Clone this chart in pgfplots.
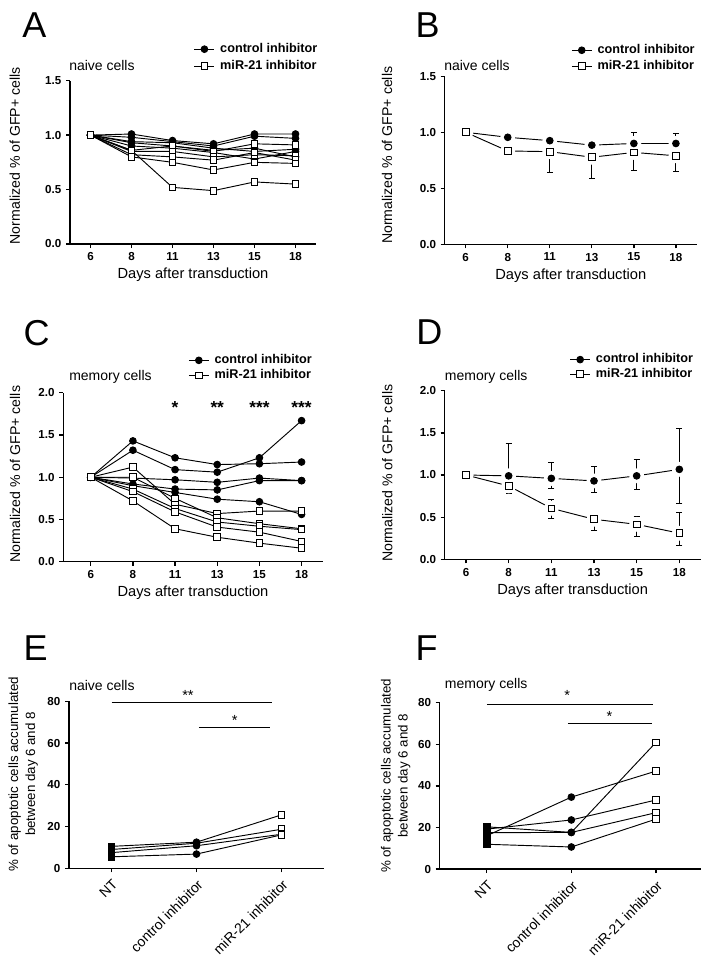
\documentclass[border=0pt]{standalone}
\usepackage{fontspec}
\setmainfont{Liberation Sans}
\usepackage{pgfplots}
\pgfplotsset{compat=1.18}

\pgfplotsset{
  gp/.style={
    scale only axis,
    axis lines=left,
    axis line style={-, line width=1pt},
    tick align=outside,
    major tick length=3pt,
    tick style={line width=1pt, black},
    ticklabel style={font=\bfseries\fontsize{8.7}{10}\selectfont},
    /pgf/number format/assume math mode=true,
    xlabel style={font=\fontsize{11}{13}\selectfont, at={(axis description cs:0.5,0)}, anchor=center, yshift=-23.3pt},
    ylabel style={font=\fontsize{10}{12.75}\selectfont, anchor=center},
    clip=false,
    every axis plot/.append style={line width=0.7pt},
    legend image code/.code={\draw[mark repeat=2,mark phase=2] plot coordinates {(0pt,0pt) (7.5pt,0pt) (15pt,0pt)};},
  },
  days/.style={
    xmin=-0.5, xmax=5.5,
    xtick={0,...,5},
    xticklabels={6,8,11,13,15,18},
    xlabel={Days after transduction},
    ylabel={Normalized \% of GFP+ cells},
    ylabel style={font=\fontsize{10.6}{12.75}\selectfont},
    yticklabel style={/pgf/number format/.cd, fixed, fixed zerofill, precision=1},
  },
  leg/.style n args={3}{
    legend style={draw=none, fill=none, inner sep=0pt, at={(axis description cs:1,1)}, anchor=north east,
      xshift=#1, yshift=#2, row sep=#3, column sep=3.5pt, legend cell align=left,
      font=\bfseries\fontsize{9.5}{11}\selectfont,
      nodes={text height=7pt, text depth=2pt, inner sep=0.5pt}},
  },
  ctl/.style={black, mark=*, mark size=2.5pt, mark options={solid, fill=black}},
  mir/.style={black, mark=square*, mark size=2.5pt, mark options={solid, fill=white}},
  nt/.style={black, mark=square*, mark size=2.5pt, mark options={solid, fill=black}},
  halo/.style={only marks, mark=*, mark size=5.2pt, mark options={draw=white, fill=white}, forget plot},
  ebar/.style={only marks, forget plot,
    error bars/y dir=both, error bars/y explicit,
    error bars/error bar style={line width=0.7pt, black},
    error bars/error mark options={rotate=90, line width=0.7pt, mark size=2.25pt, black}},
}

\begin{document}
\begin{tikzpicture}
\path[use as bounding box] (0,0) rectangle (531pt,-722.25pt);

% ---------- A ----------
\begin{axis}[gp, days, at={(52.5pt,-183pt)}, anchor=south west, width=184.5pt, height=122.5pt,
  ymin=0, ymax=1.5, ytick={0,0.5,1,1.5},
  ylabel style={at={(axis description cs:-0.224,0.54)}}, leg={1.7pt}{28.8pt}{2.75pt}]
\addlegendimage{ctl}\addlegendentry{control inhibitor}
\addlegendimage{mir}\addlegendentry{miR-21 inhibitor}
\addplot[ctl, forget plot] coordinates {(0,1) (1,1.01) (2,0.95) (3,0.92) (4,1.01) (5,1.01)};
\addplot[ctl, forget plot] coordinates {(0,1) (1,0.98) (2,0.94) (3,0.90) (4,0.99) (5,0.97)};
\addplot[ctl, forget plot] coordinates {(0,1) (1,0.94) (2,0.93) (3,0.88) (4,0.85) (5,0.87)};
\addplot[ctl, forget plot] coordinates {(0,1) (1,0.93) (2,0.90) (3,0.86) (4,0.88) (5,0.80)};
\addplot[ctl, forget plot] coordinates {(0,1) (1,0.90) (2,0.88) (3,0.84) (4,0.78) (5,0.85)};
\addplot[mir, forget plot] coordinates {(0,1) (1,0.86) (2,0.90) (3,0.85) (4,0.92) (5,0.91)};
\addplot[mir, forget plot] coordinates {(0,1) (1,0.85) (2,0.85) (3,0.80) (4,0.82) (5,0.81)};
\addplot[mir, forget plot] coordinates {(0,1) (1,0.82) (2,0.80) (3,0.77) (4,0.84) (5,0.77)};
\addplot[mir, forget plot] coordinates {(0,1) (1,0.80) (2,0.75) (3,0.68) (4,0.75) (5,0.74)};
\addplot[mir, forget plot] coordinates {(0,1) (1,0.86) (2,0.52) (3,0.49) (4,0.57) (5,0.55)};
\end{axis}

% ---------- B ----------
\begin{axis}[gp, days, at={(333.5pt,-183.2pt)}, anchor=south west, width=189.2pt, height=126pt,
  ymin=0, ymax=1.5, ytick={0,0.5,1,1.5},
  ylabel style={at={(axis description cs:-0.228,0.53)}}, leg={-1pt}{24.7pt}{2pt}]
\addlegendimage{ctl}\addlegendentry{control inhibitor}
\addlegendimage{mir}\addlegendentry{miR-21 inhibitor}
\addplot[black, no marks, forget plot] coordinates {(0,1) (1,0.955) (2,0.925) (3,0.885) (4,0.90) (5,0.90)};
\addplot[black, no marks, forget plot] coordinates {(0,1) (1,0.833) (2,0.827) (3,0.777) (4,0.82) (5,0.79)};
\addplot[halo] coordinates {(0,1) (1,0.955) (2,0.925) (3,0.885) (4,0.90) (5,0.90)};
\addplot[halo] coordinates {(0,1) (1,0.833) (2,0.827) (3,0.777) (4,0.82) (5,0.79)};
\addplot[ctl, ebar] coordinates {
  (1,0.955) += (0,0.03) -= (0,0.06)
  (2,0.925) += (0,0.03) -= (0,0.05)
  (3,0.885) += (0,0.02) -= (0,0.04)
  (4,0.90) += (0,0.10) -= (0,0.06)
  (5,0.90) += (0,0.09) -= (0,0.06)};
\addplot[mir, ebar] coordinates {
  (0,1) += (0,0) -= (0,0)
  (1,0.833) += (0,0) -= (0,0.02)
  (2,0.827) += (0,0) -= (0,0.19)
  (3,0.777) += (0,0) -= (0,0.19)
  (4,0.82) += (0,0) -= (0,0.16)
  (5,0.79) += (0,0) -= (0,0.14)};
\end{axis}

% ---------- C ----------
\begin{axis}[gp, days, at={(47.5pt,-421.3pt)}, anchor=south west, width=194.5pt, height=126.75pt,
  xmin=-0.65, ymin=0, ymax=2, ytick={0,0.5,1,1.5,2},
  ylabel style={at={(axis description cs:-0.186,0.517)}}, leg={-7.5pt}{29.5pt}{1.25pt}]
\addlegendimage{ctl}\addlegendentry{control inhibitor}
\addlegendimage{mir}\addlegendentry{miR-21 inhibitor}
\addplot[ctl, forget plot] coordinates {(0,1) (1,1.43) (2,1.23) (3,1.15) (4,1.16) (5,1.18)};
\addplot[ctl, forget plot] coordinates {(0,1) (1,1.32) (2,1.09) (3,1.06) (4,1.23) (5,1.67)};
\addplot[ctl, forget plot] coordinates {(0,1) (1,0.99) (2,0.97) (3,0.94) (4,0.99) (5,0.96)};
\addplot[ctl, forget plot] coordinates {(0,1) (1,0.92) (2,0.86) (3,0.85) (4,0.96) (5,0.96)};
\addplot[ctl, forget plot] coordinates {(0,1) (1,0.90) (2,0.82) (3,0.74) (4,0.71) (5,0.56)};
\addplot[mir, forget plot] coordinates {(0,1) (1,1.12) (2,0.68) (3,0.57) (4,0.60) (5,0.60)};
\addplot[mir, forget plot] coordinates {(0,1) (1,1.00) (2,0.75) (3,0.52) (4,0.45) (5,0.39)};
\addplot[mir, forget plot] coordinates {(0,1) (1,0.86) (2,0.63) (3,0.47) (4,0.42) (5,0.38)};
\addplot[mir, forget plot] coordinates {(0,1) (1,0.83) (2,0.59) (3,0.41) (4,0.35) (5,0.24)};
\addplot[mir, forget plot] coordinates {(0,1) (1,0.72) (2,0.39) (3,0.29) (4,0.22) (5,0.16)};
\node[font=\bfseries\fontsize{13}{14}\selectfont] at (axis cs:2,1.83) {*};
\node[font=\bfseries\fontsize{13}{14}\selectfont] at (axis cs:3,1.83) {**};
\node[font=\bfseries\fontsize{13}{14}\selectfont] at (axis cs:4,1.83) {***};
\node[font=\bfseries\fontsize{13}{14}\selectfont] at (axis cs:5,1.83) {***};
\end{axis}

% ---------- D ----------
\begin{axis}[gp, days, at={(333.5pt,-419.5pt)}, anchor=south west, width=192pt, height=126.5pt,
  ymin=0, ymax=2, ytick={0,0.5,1,1.5,2},
  ylabel style={at={(axis description cs:-0.224,0.51)}}, leg={-5pt}{28.5pt}{1pt}]
\addlegendimage{ctl}\addlegendentry{control inhibitor}
\addlegendimage{mir}\addlegendentry{miR-21 inhibitor}
\addplot[black, no marks, forget plot] coordinates {(0,1) (1,0.99) (2,0.96) (3,0.93) (4,0.99) (5,1.067)};
\addplot[black, no marks, forget plot] coordinates {(0,1) (1,0.87) (2,0.605) (3,0.475) (4,0.415) (5,0.31)};
\addplot[halo] coordinates {(0,1) (1,0.99) (2,0.96) (3,0.93) (4,0.99) (5,1.067)};
\addplot[halo] coordinates {(0,1) (1,0.87) (2,0.605) (3,0.475) (4,0.415) (5,0.31)};
\addplot[ctl, ebar] coordinates {
  (1,0.99) += (0,0.38) -= (0,0.04)
  (2,0.96) += (0,0.19) -= (0,0.12)
  (3,0.93) += (0,0.17) -= (0,0.14)
  (4,0.99) += (0,0.20) -= (0,0.16)
  (5,1.067) += (0,0.48) -= (0,0.41)};
\addplot[mir, ebar] coordinates {
  (0,1) += (0,0) -= (0,0)
  (1,0.87) += (0,0.04) -= (0,0.09)
  (2,0.605) += (0,0.10) -= (0,0.12)
  (3,0.475) += (0,0.07) -= (0,0.135)
  (4,0.415) += (0,0.095) -= (0,0.14)
  (5,0.31) += (0,0.24) -= (0,0.14)};
\end{axis}

% ---------- E ----------
\begin{axis}[gp, at={(51.75pt,-651.2pt)}, anchor=south west, width=191.25pt, height=125.25pt,
  xmin=-0.5, xmax=2.5, ymin=0, ymax=80, ytick={0,20,40,60,80},
  xtick={0,1,2}, xticklabels={NT,control inhibitor,miR-21 inhibitor},
  xticklabel style={rotate=45, anchor=north east, font=\fontsize{10.5}{12}\selectfont},
  ylabel={\% of apoptotic cells accumulated\\between day 6 and 8},
  ylabel style={align=center, at={(axis description cs:-0.18,0.565)}}]
\addplot[black, no marks] coordinates {(0,10.5) (1,12.5) (2,25.6)};
\addplot[black, no marks] coordinates {(0,9.0) (1,12.0) (2,18.7)};
\addplot[black, no marks] coordinates {(0,7.5) (1,10.8) (2,16.3)};
\addplot[black, no marks] coordinates {(0,5.5) (1,6.8) (2,16.0)};
\addplot[nt, only marks] coordinates {(0,10.5) (0,9.0) (0,7.5) (0,5.5)};
\addplot[ctl, only marks] coordinates {(1,12.5) (1,12.0) (1,10.8) (1,6.8)};
\addplot[mir, only marks] coordinates {(2,25.6) (2,18.7) (2,16.3) (2,16.0)};
\draw[line width=0.7pt] (axis cs:0,79.3) -- (axis cs:1.894,79.3);
\draw[line width=0.7pt] (axis cs:1.027,67.5) -- (axis cs:1.86,67.5);
\node[font=\fontsize{11}{12}\selectfont] at (axis cs:0.9,83) {**};
\node[font=\fontsize{11}{12}\selectfont] at (axis cs:1.45,71) {*};
\end{axis}

% ---------- F ----------
\begin{axis}[gp, at={(329.8pt,-651.75pt)}, anchor=south west, width=195.75pt, height=124.7pt,
  xmin=-0.556, xmax=2.53, ymin=0, ymax=80, ytick={0,20,40,60,80},
  xtick={0,1,2}, xticklabels={NT,control inhibitor,miR-21 inhibitor},
  xticklabel style={rotate=45, anchor=north east, font=\fontsize{10.5}{12}\selectfont},
  ylabel={\% of apoptotic cells accumulated\\between day 6 and 8},
  ylabel style={align=center, at={(axis description cs:-0.169,0.56)}}]
\addplot[black, no marks] coordinates {(0,16.0) (1,34.6) (2,47.1)};
\addplot[black, no marks] coordinates {(0,19.2) (1,23.6) (2,33.2)};
\addplot[black, no marks] coordinates {(0,20.3) (1,17.6) (2,60.9)};
\addplot[black, no marks] coordinates {(0,17.5) (1,17.6) (2,27.1)};
\addplot[black, no marks] coordinates {(0,11.9) (1,10.6) (2,24.0)};
\addplot[nt, only marks] coordinates {(0,16.0) (0,19.2) (0,20.3) (0,17.5) (0,11.9)};
\addplot[ctl, only marks] coordinates {(1,34.6) (1,23.6) (1,17.6) (1,17.6) (1,10.6)};
\addplot[mir, only marks] coordinates {(2,47.1) (2,33.2) (2,60.9) (2,27.1) (2,24.0)};
\draw[line width=0.7pt] (axis cs:0,79.3) -- (axis cs:1.97,79.3);
\draw[line width=0.7pt] (axis cs:0.96,70) -- (axis cs:1.95,70);
\node[font=\fontsize{11}{12}\selectfont] at (axis cs:0.95,83.5) {*};
\node[font=\fontsize{11}{12}\selectfont] at (axis cs:1.45,73.5) {*};
\end{axis}

% titles and panel letters
\begin{scope}[every node/.style={anchor=west, inner sep=0pt}]
\node[font=\fontsize{10.5}{12}\selectfont] at (51.75pt,-48.75pt) {naive cells};
\node[font=\fontsize{10.5}{12}\selectfont] at (333pt,-48.75pt) {naive cells};
\node[font=\fontsize{10.5}{12}\selectfont] at (51.75pt,-282.5pt) {memory cells};
\node[font=\fontsize{10.5}{12}\selectfont] at (333.5pt,-282.5pt) {memory cells};
\node[font=\fontsize{10.5}{12}\selectfont] at (51.75pt,-513.75pt) {naive cells};
\node[font=\fontsize{10.5}{12}\selectfont] at (333.5pt,-513.75pt) {memory cells};
\node[font=\fontsize{27}{29}\selectfont] at (16.5pt,-18.75pt) {A};
\node[font=\fontsize{27}{29}\selectfont] at (311.5pt,-18.75pt) {B};
\node[font=\fontsize{27}{29}\selectfont] at (17.5pt,-249.75pt) {C};
\node[font=\fontsize{27}{29}\selectfont] at (312pt,-248.75pt) {D};
\node[font=\fontsize{27}{29}\selectfont] at (17.5pt,-486pt) {E};
\node[font=\fontsize{27}{29}\selectfont] at (311.5pt,-486pt) {F};
\end{scope}
\end{tikzpicture}
\end{document}
